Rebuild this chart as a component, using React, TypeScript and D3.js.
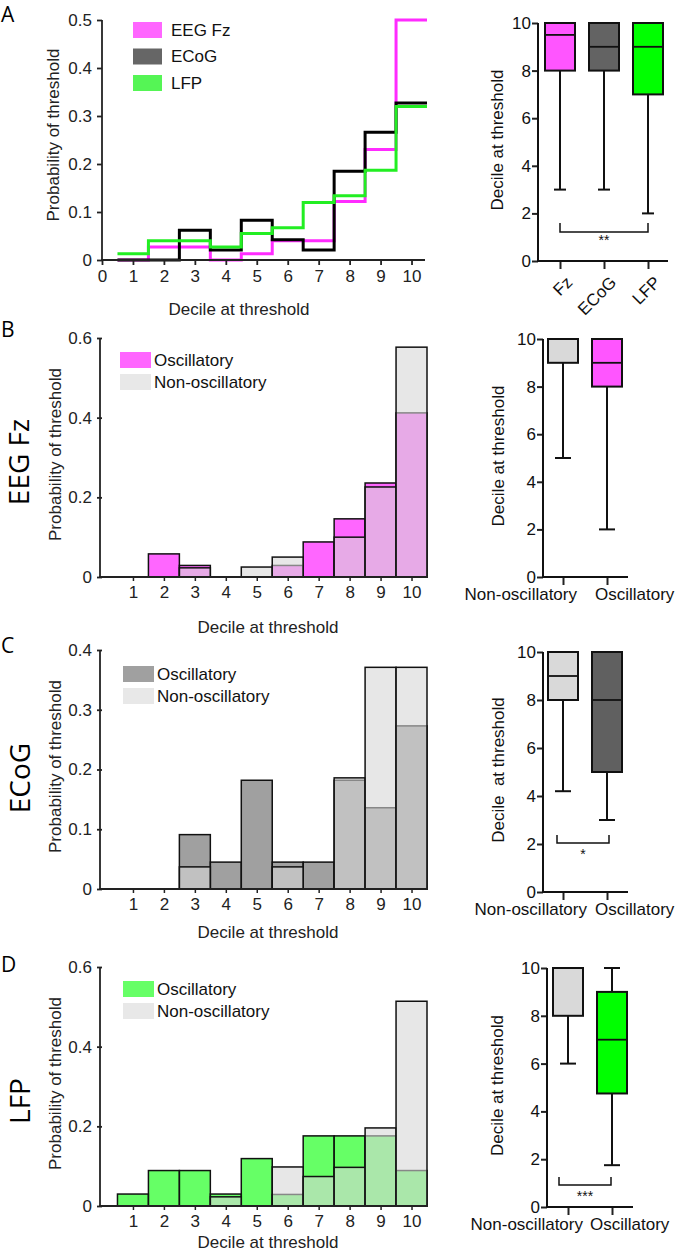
import React, { useEffect, useRef } from "react";
import * as d3 from "d3";

const FONT = "'Liberation Sans', Arial, sans-serif";
const TITLE_FONT = "'Open Sans', 'Noto Sans', sans-serif";

const deciles = [1, 2, 3, 4, 5, 6, 7, 8, 9, 10];

// A: probability of threshold per decile (step lines)
const fzProb = [0, 0.027, 0.027, 0, 0.013, 0.04, 0.04, 0.122, 0.23, 0.5];
const ecogProb = [0, 0, 0.062, 0.021, 0.083, 0.042, 0.021, 0.185, 0.266, 0.327];
const lfpProb = [0.013, 0.04, 0.04, 0.027, 0.055, 0.067, 0.12, 0.134, 0.187, 0.32];

// B-D: oscillatory vs non-oscillatory histograms
const fzOsc = [0, 0.058, 0.029, 0, 0, 0.029, 0.088, 0.146, 0.236, 0.412];
const fzNon = [0, 0, 0.023, 0, 0.025, 0.05, 0, 0.1, 0.226, 0.577];
const ecogOsc = [0, 0, 0.091, 0.045, 0.182, 0.045, 0.045, 0.182, 0.136, 0.273];
const ecogNon = [0, 0, 0.037, 0, 0, 0.037, 0, 0.186, 0.371, 0.371];
const lfpOsc = [0.03, 0.089, 0.089, 0.03, 0.119, 0.029, 0.176, 0.176, 0.176, 0.089];
const lfpNon = [0, 0, 0, 0.023, 0, 0.098, 0.074, 0.097, 0.196, 0.514];

// box plots: min, q1, median, q3, max
const recGroups = ["Fz", "ECoG", "LFP"];
const recMin = [3, 3, 2];
const recQ1 = [8, 8, 7];
const recMed = [9.5, 9, 9];
const recQ3 = [10, 10, 10];
const recMax = [10, 10, 10];

const oscGroups = ["Non-oscillatory", "Oscillatory"];
const fzBoxMin = [5, 2];
const fzBoxQ1 = [9, 8];
const fzBoxMed = [10, 9];
const fzBoxQ3 = [10, 10];
const fzBoxMax = [10, 10];
const ecogBoxMin = [4.2, 3];
const ecogBoxQ1 = [8, 5];
const ecogBoxMed = [9, 8];
const ecogBoxQ3 = [10, 10];
const ecogBoxMax = [10, 10];
const lfpBoxMin = [6, 1.75];
const lfpBoxQ1 = [8, 4.75];
const lfpBoxMed = [10, 7];
const lfpBoxQ3 = [10, 9];
const lfpBoxMax = [10, 10];

const histTicksA = [0, 0.1, 0.2, 0.3, 0.4, 0.5];
const histTicks6 = [0, 0.2, 0.4, 0.6];
const histTicks4 = [0, 0.1, 0.2, 0.3, 0.4];
const boxTicks = [0, 2, 4, 6, 8, 10];

const xHist = d3.scaleLinear().domain([0, 10.5]).range([102, 427]);

function styleAxis(g: any, sw: number) {
  g.attr("font-family", FONT).attr("font-size", 17);
  g.selectAll(".domain").remove();
  g.selectAll(".tick line").attr("stroke", "#222").attr("stroke-width", sw);
  g.selectAll(".tick text").attr("fill", "#222");
}

function axisLines(svg: any, x0: number, x1: number, yBottom: number, yTop: number, sw: number, color: string) {
  svg.append("line").attr("x1", x0).attr("x2", x0).attr("y1", yBottom).attr("y2", yTop)
    .attr("stroke", color).attr("stroke-width", sw);
  svg.append("line").attr("x1", x0 - sw / 2).attr("x2", x1).attr("y1", yBottom).attr("y2", yBottom)
    .attr("stroke", color).attr("stroke-width", sw);
}

function drawOverlay(svg: any, c: any) {
  const y = d3.scaleLinear().domain([0, c.yMax]).range([c.bottom, c.top]);
  const g = svg.append("g");
  const bars = [
    { vals: c.osc, fill: c.oscColor },
    { vals: c.non, fill: "#d7d7d7" },
  ];
  bars.forEach((b) => {
    g.selectAll(null)
      .data(deciles)
      .enter()
      .append("rect")
      .attr("x", (d: number) => xHist(d - 0.5))
      .attr("width", xHist(1) - xHist(0))
      .attr("y", (d: number, i: number) => y(b.vals[i]))
      .attr("height", (d: number, i: number) => y(0) - y(b.vals[i]))
      .attr("fill", b.fill)
      .attr("fill-opacity", 0.6)
      .attr("stroke", "#111")
      .attr("stroke-width", 1.5);
  });

  const ya = svg.append("g").attr("transform", "translate(102,0)")
    .call(d3.axisLeft(y).tickValues(c.yTicks).tickSize(5).tickPadding(5).tickFormat((d: any) => String(d)));
  styleAxis(ya, 1.8);
  const xa = svg.append("g").attr("transform", `translate(0,${c.bottom})`)
    .call(d3.axisBottom(xHist).tickValues(deciles).tickSize(4).tickPadding(5));
  styleAxis(xa, 1.5);
  axisLines(svg, 100, 428, c.bottom, c.top, 1.8, "#222");

  // legend
  const leg = [
    { label: "Oscillatory", fill: c.oscSwatch },
    { label: "Non-oscillatory", fill: "#e8e8e8" },
  ];
  leg.forEach((l, i) => {
    svg.append("rect").attr("x", c.legX).attr("y", c.legY + i * 22).attr("width", 31).attr("height", 16).attr("fill", l.fill);
    svg.append("text").attr("x", c.legX + 34).attr("y", c.legY + i * 22 + 8).attr("dy", "0.35em")
      .attr("font-family", FONT).attr("font-size", 17).attr("fill", "#111").text(l.label);
  });

  svg.append("text").attr("x", 268).attr("y", c.xTitleY).attr("dy", "0.35em").attr("text-anchor", "middle")
    .attr("font-family", FONT).attr("font-size", 17).attr("fill", "#222").text("Decile at threshold");
  svg.append("text").attr("transform", `translate(55,${(c.top + c.bottom) / 2 - 3}) rotate(-90)`)
    .attr("dy", "0.35em").attr("text-anchor", "middle")
    .attr("font-family", FONT).attr("font-size", 17).attr("fill", "#222").text("Probability of threshold");
}

function drawBox(svg: any, c: any) {
  const y = d3.scaleLinear().domain([0, 10]).range([c.bottom, c.top]);
  const x = d3.scalePoint<string>().domain(c.groups).range(c.xRange);
  const bw = 30;
  const cap = c.cap;
  c.groups.forEach((grp: string, i: number) => {
    const cx = x(grp) as number;
    svg.append("line").attr("x1", cx).attr("x2", cx).attr("y1", y(c.min[i])).attr("y2", y(c.q1[i]))
      .attr("stroke", "#111").attr("stroke-width", 2);
    svg.append("line").attr("x1", cx).attr("x2", cx).attr("y1", y(c.max[i])).attr("y2", y(c.q3[i]))
      .attr("stroke", "#111").attr("stroke-width", 2);
    svg.append("line").attr("x1", cx - cap / 2).attr("x2", cx + cap / 2).attr("y1", y(c.min[i])).attr("y2", y(c.min[i]))
      .attr("stroke", "#111").attr("stroke-width", 2);
    svg.append("line").attr("x1", cx - cap / 2).attr("x2", cx + cap / 2).attr("y1", y(c.max[i])).attr("y2", y(c.max[i]))
      .attr("stroke", "#111").attr("stroke-width", 2);
    svg.append("rect").attr("x", cx - bw / 2).attr("width", bw).attr("y", y(c.q3[i])).attr("height", y(c.q1[i]) - y(c.q3[i]))
      .attr("fill", c.colors[i]).attr("stroke", "#111").attr("stroke-width", 2);
    svg.append("line").attr("x1", cx - bw / 2).attr("x2", cx + bw / 2).attr("y1", y(c.med[i])).attr("y2", y(c.med[i]))
      .attr("stroke", "#111").attr("stroke-width", 1.8);
  });

  const ya = svg.append("g").attr("transform", `translate(${c.axisX},0)`)
    .call(d3.axisLeft(y).tickValues(boxTicks).tickSize(6).tickPadding(1));
  styleAxis(ya, 2);
  ya.selectAll(".tick text").attr("fill", "#111");
  const xa = svg.append("g").attr("transform", `translate(0,${c.bottom})`)
    .call(d3.axisBottom(x).tickSize(8).tickFormat(() => ""));
  styleAxis(xa, 2);
  axisLines(svg, c.axisX, c.axisEnd, c.bottom, c.top, 2, "#111");

  if (c.rotated) {
    c.groups.forEach((grp: string) => {
      svg.append("text").attr("transform", `translate(${(x(grp) as number) + 5},${c.bottom + 14}) rotate(-45)`)
        .attr("text-anchor", "end").attr("dy", "0.7em").attr("font-family", FONT).attr("font-size", 17)
        .attr("fill", "#111").text(grp);
    });
  } else {
    svg.append("text").attr("x", c.nonLabelEnd).attr("y", c.bottom + 17).attr("dy", "0.35em").attr("text-anchor", "end")
      .attr("font-family", FONT).attr("font-size", 17).attr("fill", "#111").text(c.groups[0]);
    svg.append("text").attr("x", c.oscLabelStart).attr("y", c.bottom + 17).attr("dy", "0.35em").attr("text-anchor", "start")
      .attr("font-family", FONT).attr("font-size", 17).attr("fill", "#111").text(c.groups[1]);
  }

  svg.append("text").attr("transform", `translate(${c.yTitleX},${(c.top + c.bottom) / 2 - 2}) rotate(-90)`)
    .attr("dy", "0.35em").attr("text-anchor", "middle").style("white-space", "pre")
    .attr("font-family", FONT).attr("font-size", 17).attr("fill", "#111").text(c.yTitle);

  if (c.bracket) {
    const [bx0, bx1, by0, by1, stars, sy] = c.bracket;
    svg.append("path").attr("d", `M${bx0},${by0}V${by1}H${bx1}V${by0}`).attr("fill", "none")
      .attr("stroke", "#111").attr("stroke-width", 1.5);
    svg.append("text").attr("x", (bx0 + bx1) / 2).attr("y", sy).attr("dy", "0.35em").attr("text-anchor", "middle")
      .attr("font-family", FONT).attr("font-size", 14).attr("fill", "#111").text(stars);
  }
}

export default function App() {
  const ref = useRef<SVGSVGElement>(null);

  useEffect(() => {
    const svg = d3.select(ref.current);
    svg.selectAll("*").remove();

    // ---- panel A, step histograms
    const yA = d3.scaleLinear().domain([0, 0.5]).range([260, 20]);
    const step = d3.line<[number, number]>().x((d) => xHist(d[0])).y((d) => yA(d[1])).curve(d3.curveStepAfter);
    const series = [
      { vals: fzProb, color: "#ff2bff", sw: "#ff66ff", label: "EEG Fz" },
      { vals: ecogProb, color: "#000000", sw: "#666666", label: "ECoG" },
      { vals: lfpProb, color: "#22ee22", sw: "#55f555", label: "LFP" },
    ];
    series.forEach((s) => {
      const pts: [number, number][] = deciles.map((d, i) => [d - 0.5, s.vals[i]] as [number, number]);
      pts.push([10.5, s.vals[9]]);
      svg.append("path").attr("d", step(pts)).attr("fill", "none").attr("stroke", s.color).attr("stroke-width", 3);
    });
    const yaA = svg.append("g").attr("transform", "translate(102,0)")
      .call(d3.axisLeft(yA).tickValues(histTicksA).tickSize(5).tickPadding(5).tickFormat((d: any) => String(d)));
    styleAxis(yaA, 1.8);
    const xaA = svg.append("g").attr("transform", "translate(0,260)")
      .call(d3.axisBottom(xHist).tickValues([0, ...deciles]).tickSize(5).tickPadding(5));
    styleAxis(xaA, 1.8);
    axisLines(svg, 102, 425, 260, 20, 1.8, "#222");
    series.forEach((s, i) => {
      svg.append("rect").attr("x", 133).attr("y", 22 + i * 26.5).attr("width", 29).attr("height", 16).attr("fill", s.sw);
      svg.append("text").attr("x", 171).attr("y", 30 + i * 26.5).attr("dy", "0.35em")
        .attr("font-family", FONT).attr("font-size", 17).attr("fill", "#111").text(s.label);
    });
    svg.append("text").attr("x", 239).attr("y", 309).attr("dy", "0.35em").attr("text-anchor", "middle")
      .attr("font-family", FONT).attr("font-size", 17).attr("fill", "#222").text("Decile at threshold");
    svg.append("text").attr("transform", "translate(53,135) rotate(-90)").attr("dy", "0.35em").attr("text-anchor", "middle")
      .attr("font-family", FONT).attr("font-size", 17).attr("fill", "#222").text("Probability of threshold");

    drawBox(svg, {
      groups: recGroups, min: recMin, q1: recQ1, med: recMed, q3: recQ3, max: recMax,
      colors: ["#ff55ff", "#636363", "#00ff00"],
      top: 23, bottom: 261, xRange: [560, 648], axisX: 538, axisEnd: 668, cap: 12,
      rotated: true, yTitleX: 497, yTitle: "Decile at threshold",
      bracket: [560, 648, 223, 232, "**", 240],
    });

    // ---- panels B-D
    drawOverlay(svg, {
      top: 338, bottom: 577, yMax: 0.6, yTicks: histTicks6, osc: fzOsc, non: fzNon,
      oscColor: "#ff00ff", oscSwatch: "#ff66ff", legX: 120, legY: 352, xTitleY: 627,
    });
    drawBox(svg, {
      groups: oscGroups, min: fzBoxMin, q1: fzBoxQ1, med: fzBoxMed, q3: fzBoxQ3, max: fzBoxMax,
      colors: ["#d9d9d9", "#ff55ff"],
      top: 339, bottom: 577, xRange: [563, 607], axisX: 543, axisEnd: 628, cap: 16,
      nonLabelEnd: 577, oscLabelStart: 595, yTitleX: 498, yTitle: "Decile at threshold",
    });

    drawOverlay(svg, {
      top: 650, bottom: 889, yMax: 0.4, yTicks: histTicks4, osc: ecogOsc, non: ecogNon,
      oscColor: "#616161", oscSwatch: "#a0a0a0", legX: 123, legY: 666, xTitleY: 932,
    });
    drawBox(svg, {
      groups: oscGroups, min: ecogBoxMin, q1: ecogBoxQ1, med: ecogBoxMed, q3: ecogBoxQ3, max: ecogBoxMax,
      colors: ["#d9d9d9", "#606060"],
      top: 652, bottom: 892, xRange: [563, 607], axisX: 543, axisEnd: 628, cap: 16,
      nonLabelEnd: 587, oscLabelStart: 595, yTitleX: 498, yTitle: "Decile  at threshold",
      bracket: [557, 609, 835, 843, "*", 854],
    });

    drawOverlay(svg, {
      top: 967, bottom: 1206, yMax: 0.6, yTicks: histTicks6, osc: lfpOsc, non: lfpNon,
      oscColor: "#00ff00", oscSwatch: "#66ff66", legX: 123, legY: 981, xTitleY: 1242,
    });
    drawBox(svg, {
      groups: oscGroups, min: lfpBoxMin, q1: lfpBoxQ1, med: lfpBoxMed, q3: lfpBoxQ3, max: lfpBoxMax,
      colors: ["#d9d9d9", "#00ff00"],
      top: 968, bottom: 1207, xRange: [568, 612], axisX: 547, axisEnd: 633, cap: 16,
      nonLabelEnd: 583, oscLabelStart: 590, yTitleX: 497, yTitle: "Decile at threshold",
      bracket: [559, 611, 1177, 1185, "***", 1196],
    });

    // panel letters and row titles
    const letters: [string, number][] = [["A", 22], ["B", 337], ["C", 653], ["D", 972]];
    letters.forEach(([t, yy]) => {
      svg.append("text").attr("x", 1).attr("y", yy).attr("font-family", TITLE_FONT).attr("font-size", 21)
        .attr("fill", "#000").text(t);
    });
    const rows: [string, number, number][] = [["EEG Fz", 29, 462], ["ECoG", 30, 778], ["LFP", 30, 1101]];
    rows.forEach(([t, xx, yy]) => {
      svg.append("text").attr("transform", `translate(${xx},${yy}) rotate(-90)`).attr("text-anchor", "middle")
        .attr("font-family", TITLE_FONT).attr("font-size", 28).attr("fill", "#000").text(t);
    });
  }, []);

  return (
    <svg ref={ref} width={677} height={1252}
      style={{ position: "absolute", left: 0, top: 0, background: "#fff" }} />
  );
}
